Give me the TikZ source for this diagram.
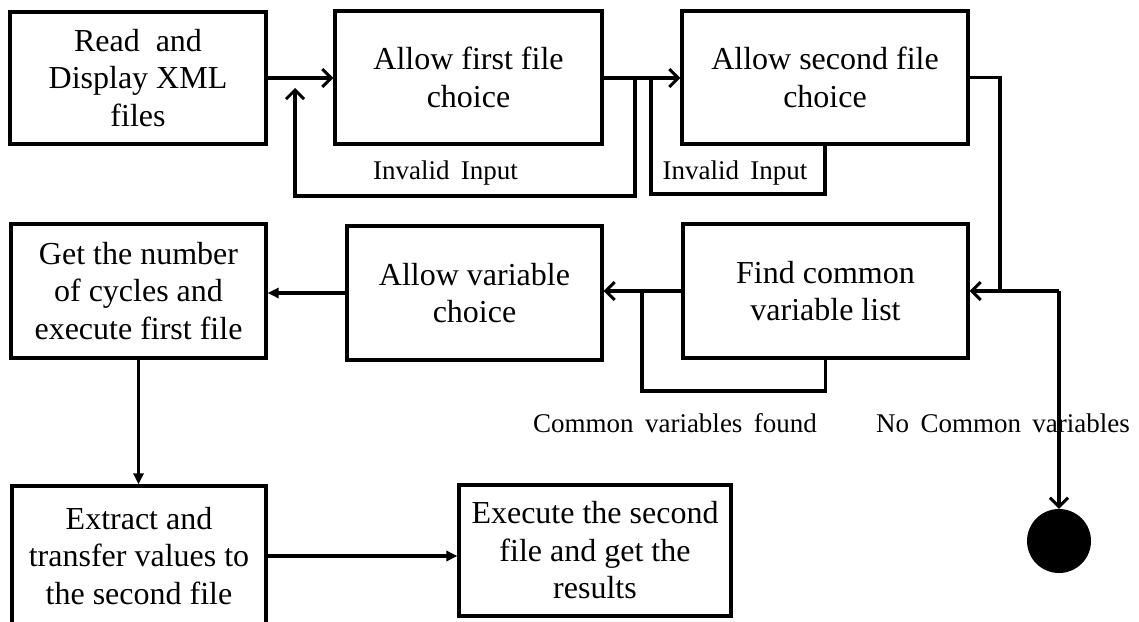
\documentclass[tikz,border=0pt]{standalone}
\usepackage{fontspec}
\setmainfont{Liberation Serif}
\usetikzlibrary{arrows.meta}
\newcommand\branchfont{\fontsize{27}{30}\selectfont\spaceskip=0.42em plus 0.05em\relax}
\begin{document}
\begin{tikzpicture}[x=1pt,y=-1pt,
  box/.style={draw,line width=3.2pt,inner sep=0pt,align=center,
    font=\fontsize{32}{37.5}\selectfont},
  lbl/.style={inner sep=0pt,font=\branchfont},
  flow/.style={line width=3.2pt},
  barb/.style={flow,-{Straight Barb[length=9pt,width=18pt,line width=3pt]}},
  tri/.style={flow,-{Triangle[length=11pt,width=10pt]}}]
\useasboundingbox (0,0) rectangle (1139,621);
\clip (0,0) rectangle (1139,621);

% process boxes
\node[box,minimum width=256pt,minimum height=132pt] (A) at (138,78) {Read\ \ and\\Display XML\\files};
\node[box,minimum width=267pt,minimum height=133pt] (B) at (468.5,77.5) {Allow first file\\choice};
\node[box,minimum width=286pt,minimum height=133pt] (C) at (825,77.5) {Allow second file\\choice};
\node[box,minimum width=285pt,minimum height=134pt] (D) at (825.5,291) {Find common\\variable list};
\node[box,minimum width=255pt,minimum height=134pt] (E) at (474.5,293) {Allow variable\\choice};
\node[box,minimum width=255pt,minimum height=134pt] (F) at (138.5,291) {Get the number\\of cycles and\\execute first file};
\node[box,minimum width=254pt,minimum height=140pt] (G) at (139,556) {Extract and\\transfer values to\\the second file};
\node[box,minimum width=272pt,minimum height=131pt] (H) at (595,550.5) {Execute the second\\file and get the\\results};

% final state
\node[circle,fill=black,minimum size=64pt,inner sep=0pt] (End) at (1059,541) {};

% branch labels
\node[lbl] (L1) at (445.5,173) {Invalid Input};
\node[lbl] (L2) at (735,173) {Invalid Input};
\node[lbl] (L3) at (675,423) {Common variables found};
\node[lbl] (L4) at (1003,423) {No Common variables};

% junction points
\coordinate (j1) at (635,78);
\coordinate (t1) at (295,88);
\coordinate (j2) at (651,78);
\coordinate (k)  at (1000,291);
\coordinate (j3) at (642,291);

% main flow
\draw[barb] (A.east) -- (A.east -| B.west);
\draw[barb] (B.east |- j1) -- (C.west |- j1);
\draw[barb] (C.east) -| (k) -- (D.east);
\draw[flow] (k) -- (k -| End.north);
\draw[barb] (k -| End.north) -- (End.north);
\draw[barb] (D.west) -- (D.west -| E.east);
\draw[tri] (E.west) -- (E.west -| F.east);
\draw[tri] (F.south) -- (F.south |- G.north);
\draw[tri] (G.east) -- (G.east -| H.west);

% retry loops
\draw[barb] (j1) -- ++(0,118) -| (t1);
\draw[flow] (j2) -- ++(0,116) -| (C.south);
\draw[flow] (j3) -- ++(0,100) -| (D.south);
\end{tikzpicture}
\end{document}
